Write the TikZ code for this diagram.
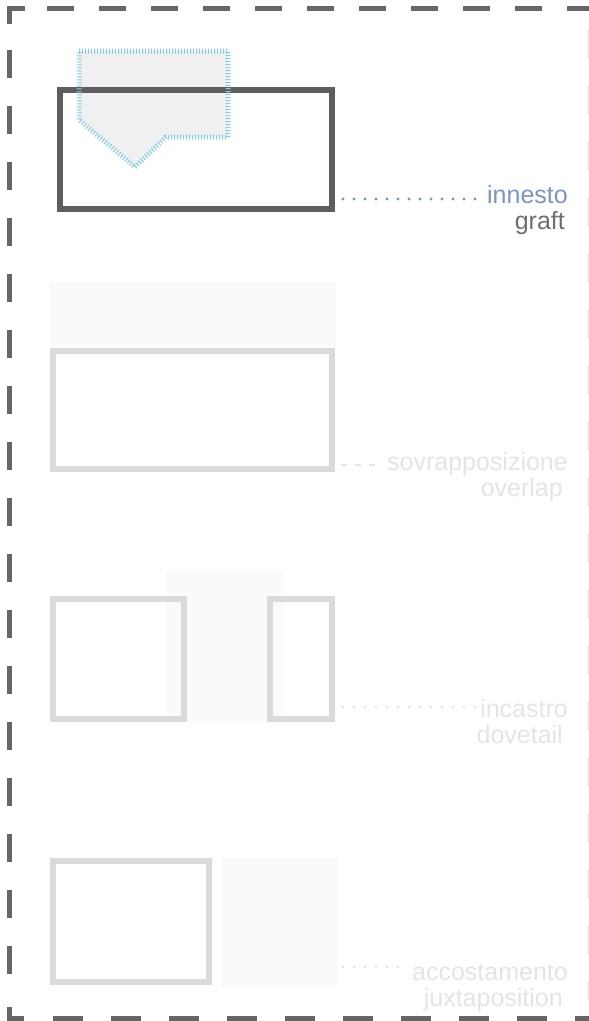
\documentclass[tikz,border=0pt]{standalone}
\usepackage{fontspec}
\setmainfont{Liberation Sans}
\definecolor{frame}{HTML}{666666}
\definecolor{darkbox}{HTML}{5E5E5E}
\definecolor{lightbox}{HTML}{DADADA}
\definecolor{ghost}{HTML}{FAFAFA}
\definecolor{ghostline}{HTML}{EFEFEF}
\definecolor{hatch}{RGB}{130,205,225}
\definecolor{overfill}{HTML}{F0F0F0}
\definecolor{bluetext}{HTML}{7A95C2}
\definecolor{graytext}{HTML}{6E6E6E}
\definecolor{fainttext}{HTML}{E4E4E4}
\tikzset{
  framedash/.style={draw=frame, line width=5pt},
  boxdark/.style={draw=darkbox, line width=6pt},
  boxlight/.style={draw=lightbox, line width=6pt},
  ghostbox/.style={fill=ghost, draw=ghostline, line width=1pt, dash pattern=on 1pt off 3pt},
  lbl/.style={font=\fontsize{25}{25}\selectfont, inner sep=0pt, anchor=base east},
  dotline/.style={line width=3.2pt, line cap=round, dash pattern=on 0pt off 11pt, shorten >=5pt},
}
\begin{document}
\begin{tikzpicture}[x=1pt,y=-1pt]
\useasboundingbox (0,0) rectangle (589,1021);
% frame
\draw[framedash] (9.5,24) -- (9.5,8) -- (25,8);
\draw[framedash, dash pattern=on 27pt off 25pt] (47,8) -- (589,8);
\draw[framedash, dash pattern=on 28pt off 28pt] (9.5,50) -- (9.5,1000);
\draw[framedash] (9.5,1007) -- (9.5,1018) -- (24,1018);
\draw[framedash, dash pattern=on 30pt off 28pt] (53,1018) -- (589,1018);
\draw[draw=ghostline, line width=2pt, dash pattern=on 28pt off 28pt] (588,30) -- (588,1000);

% 1 innesto / graft
\path[fill=overfill] (79,51) -- (228,51) -- (228,137) -- (166,137) -- (135,167) -- (79,120) -- cycle;
\node[boxdark, minimum width=272pt, minimum height=119pt, inner sep=0pt] (b1) at (196,149.5) {};
\draw[hatch, line width=5pt, dash pattern=on 1pt off 2pt] (79,51) -- (228,51) -- (228,137) -- (166,137) -- (135,167) -- (79,120) -- cycle;
\node[lbl, text=bluetext] (t1) at (568,203) {innesto};
\node[lbl, text=graytext] (e1) at (565,229) {graft};
\coordinate (c1) at (343,199);
\draw[dotline, draw=bluetext] (c1) -- (t1.west |- c1);

% 2 sovrapposizione / overlap
\node[ghostbox, minimum width=285pt, minimum height=62pt, inner sep=0pt] (g2) at (192.5,314) {};
\node[boxlight, minimum width=279pt, minimum height=118pt, inner sep=0pt] (b2) at (192.5,410) {};
\node[lbl, text=fainttext] (t2) at (568,470) {sovrapposizione};
\node[lbl, text=fainttext] (e2) at (563,496) {overlap};
\coordinate (c2) at (341,465);
\draw[fainttext, line width=2pt, dash pattern=on 6pt off 8pt, shorten >=4pt] (c2) -- (t2.west |- c2);

% 3 incastro / dovetail
\node[ghostbox, minimum width=116pt, minimum height=150pt, inner sep=0pt] (g3) at (225,647) {};
\node[boxlight, minimum width=131pt, minimum height=120pt, inner sep=0pt] (b3a) at (118.5,659) {};
\node[boxlight, minimum width=62pt, minimum height=120pt, inner sep=0pt] (b3b) at (301,659) {};
\node[lbl, text=fainttext] (t3) at (568,717) {incastro};
\node[lbl, text=fainttext] (e3) at (563,743) {dovetail};
\coordinate (c3) at (343,707);
\draw[dotline, draw=fainttext] (c3) -- (t3.west |- c3);

% 4 accostamento / juxtaposition
\node[ghostbox, minimum width=114pt, minimum height=127pt, inner sep=0pt] (g4) at (280,921.5) {};
\node[boxlight, minimum width=156pt, minimum height=121pt, inner sep=0pt] (b4) at (131,921.5) {};
\node[lbl, text=fainttext] (t4) at (568,980) {accostamento};
\node[lbl, text=fainttext] (e4) at (563,1006) {juxtaposition};
\coordinate (c4) at (343,967);
\draw[dotline, draw=fainttext] (c4) -- (t4.west |- c4);
\end{tikzpicture}
\end{document}
